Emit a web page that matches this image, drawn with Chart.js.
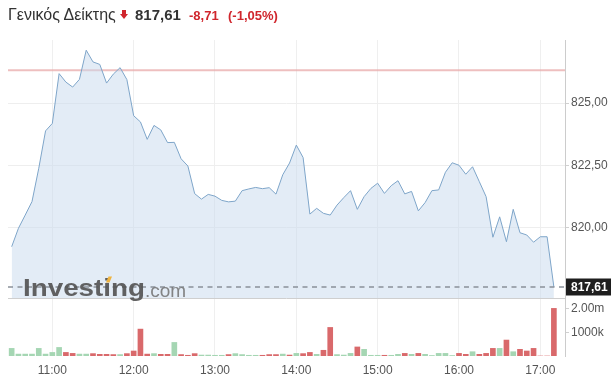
<!DOCTYPE html>
<html><head><meta charset="utf-8">
<script src="https://cdn.jsdelivr.net/npm/chart.js@4"></script>
<style>
html,body{margin:0;padding:0;background:#fff;}
#wrap{position:relative;width:616px;height:388px;font-family:"Liberation Sans",Arial,sans-serif;overflow:hidden;}
canvas{position:absolute;left:0;top:0;}
.t{position:absolute;top:5px;line-height:20px;white-space:nowrap;}
#arrow{position:absolute;left:120px;top:10px;width:8px;height:10px;}
#arrow .s{position:absolute;left:2px;top:0;width:4px;height:5px;background:#d0262d;}
#arrow .h{position:absolute;left:0;top:4px;width:0;height:0;border-left:4px solid transparent;border-right:4px solid transparent;border-top:5px solid #d0262d;}
</style></head><body>
<div id="wrap">
<canvas id="c" width="616" height="388"></canvas>
<span class="t" id="tName" style="left:8px;font-size:16px;color:#333;"></span>
<div id="arrow"><div class="s"></div><div class="h"></div></div>
<span class="t" id="tLast" style="left:135px;font-size:15px;font-weight:bold;color:#333;"></span>
<span class="t" id="tChg" style="left:189px;top:6px;font-size:13px;font-weight:bold;color:#d0262d;"></span>
<span class="t" id="tPct" style="left:228px;top:6px;font-size:13px;font-weight:bold;color:#d0262d;"></span>
</div>
<script>
const indexName = 'Γενικός Δείκτης';
const lastPrice = 817.61;
const changeText = '-8,71';
const changePctText = '(-1,05%)';
const prevClose = 826.32;

const times = ['10:30','10:35','10:40','10:45','10:50','10:55','11:00','11:05','11:10','11:15','11:20','11:25',
'11:30','11:35','11:40','11:45','11:50','11:55','12:00','12:05','12:10','12:15','12:20','12:25',
'12:30','12:35','12:40','12:45','12:50','12:55','13:00','13:05','13:10','13:15','13:20','13:25',
'13:30','13:35','13:40','13:45','13:50','13:55','14:00','14:05','14:10','14:15','14:20','14:25',
'14:30','14:35','14:40','14:45','14:50','14:55','15:00','15:05','15:10','15:15','15:20','15:25',
'15:30','15:35','15:40','15:45','15:50','15:55','16:00','16:05','16:10','16:15','16:20','16:25',
'16:30','16:35','16:40','16:45','16:50','16:55','17:00','17:05','17:10'];

const prices = [819.23,819.97,820.50,821.04,822.38,823.88,824.18,826.18,825.84,825.64,
825.95,827.12,826.65,826.55,825.80,826.16,826.42,825.94,824.49,824.24,
823.54,824.10,823.92,823.41,823.42,822.76,822.47,821.36,821.14,821.33,
821.26,821.09,821.03,821.06,821.48,821.55,821.61,821.56,821.60,821.34,
822.12,822.59,823.31,822.81,820.54,820.77,820.57,820.50,820.90,821.20,
821.48,820.73,821.24,821.57,821.78,821.37,821.68,821.88,821.35,821.45,
820.67,821.00,821.48,821.51,822.22,822.60,822.50,822.14,822.44,821.84,
821.24,819.61,820.43,819.43,820.73,819.79,819.70,819.41,819.63,819.63,817.61];

const volumesK = [320,80,80,80,320,80,150,360,150,110,
80,80,100,70,70,60,60,100,210,1130,
80,100,70,70,570,60,30,100,40,40,
30,30,60,100,60,30,30,30,60,60,
80,40,110,100,150,70,240,1200,60,40,
110,380,280,30,30,30,30,70,110,70,
110,70,20,110,110,20,110,70,180,70,
110,320,320,670,180,280,210,320,0,0,2000];

const volDir = ['u','u','u','u','u','u','u','u','d','d',
'u','u','d','d','d','d','u','d','d','d',
'd','u','d','d','u','d','d','d','u','u',
'u','u','d','u','u','u','u','d','d','d',
'u','d','u','d','d','u','d','d','u','u',
'u','d','u','u','u','d','u','u','d','u',
'd','u','u','u','u','u','d','d','u','d',
'd','d','u','d','u','d','d','d','d','d','d'];

const hourTicks = ['11:00','12:00','13:00','14:00','15:00','16:00','17:00'];
const priceTicks = [820, 822.5, 825];
const volumeTicks = [1000000, 2000000];
const volumeTickLabels = ['1000k', '2.00m'];

document.getElementById('tName').textContent = indexName;
document.getElementById('tLast').textContent = lastPrice.toFixed(2).replace('.', ',');
document.getElementById('tChg').textContent = changeText;
document.getElementById('tPct').textContent = changePctText;

const FONT = '"Liberation Sans", Arial, sans-serif';
const toMin = s => { const p = s.split(':').map(Number); return p[0]*60 + p[1]; };
const fmtTime = v => { const h = Math.floor(v/60), m = Math.round(v%60); return h + ':' + (m<10?'0':'') + m; };
const fmtPrice = v => v.toFixed(2).replace('.', ',');

const overlay = {
  id: 'overlay',
  beforeDatasetsDraw(chart) {
    const {ctx, chartArea: a, scales} = chart;
    const y = scales.y;
    ctx.save();
    const py = y.getPixelForValue(prevClose);
    ctx.strokeStyle = 'rgba(232,170,170,0.75)';
    ctx.lineWidth = 2;
    ctx.beginPath(); ctx.moveTo(a.left, py); ctx.lineTo(a.right, py); ctx.stroke();
    ctx.restore();
  },
  afterDatasetsDraw(chart) {
    const {ctx, chartArea: a, scales} = chart;
    const y = scales.y;
    ctx.save();
    ctx.strokeStyle = '#cfcfcf'; ctx.lineWidth = 1;
    ctx.beginPath(); ctx.moveTo(a.left, Math.round(y.bottom)+0.5); ctx.lineTo(a.right, Math.round(y.bottom)+0.5); ctx.stroke();
    const ly = y.getPixelForValue(lastPrice);
    ctx.strokeStyle = '#8a919a'; ctx.lineWidth = 1.6; ctx.setLineDash([5, 4.5]);
    ctx.beginPath(); ctx.moveTo(a.left, ly); ctx.lineTo(a.right, ly); ctx.stroke();
    ctx.setLineDash([]);
    ctx.fillStyle = 'rgba(85,85,85,0.92)';
    ctx.font = 'bold 23px ' + FONT;
    ctx.textBaseline = 'alphabetic';
    const w = ctx.measureText('Investing').width;
    ctx.save();
    ctx.translate(23, 296);
    ctx.scale(122 / w, 1.0);
    ctx.fillText('Investing', 0, 0);
    ctx.restore();
    ctx.fillStyle = '#f0b440';
    ctx.beginPath(); ctx.moveTo(106, 282.5); ctx.lineTo(108.5, 276.5); ctx.lineTo(112, 276.5); ctx.lineTo(109.5, 282.5); ctx.closePath(); ctx.fill();
    ctx.fillStyle = 'rgba(120,120,120,0.9)';
    ctx.font = '19px ' + FONT;
    ctx.fillText('.com', 145, 296.5);
    ctx.restore();
  },
  afterDraw(chart) {
    const {ctx, chartArea: a, scales} = chart;
    const ly = scales.y.getPixelForValue(lastPrice);
    ctx.save();
    ctx.fillStyle = '#1e1e1e';
    ctx.fillRect(a.right + 1, Math.round(ly) - 8.5, 45, 17);
    ctx.fillStyle = '#fff';
    ctx.font = 'bold 12px ' + FONT;
    ctx.textBaseline = 'middle';
    ctx.fillText(fmtPrice(lastPrice), a.right + 6, Math.round(ly) + 0.5);
    ctx.restore();
  }
};

new Chart(document.getElementById('c'), {
  data: {
    datasets: [
      {
        type: 'line', yAxisID: 'y', xAxisID: 'x',
        data: times.map((t, i) => ({x: toMin(t), y: prices[i]})),
        borderColor: '#7ea5c9', borderWidth: 1, pointRadius: 0, tension: 0,
        fill: 'start', backgroundColor: 'rgba(200,218,238,0.5)'
      },
      {
        type: 'bar', yAxisID: 'yv', xAxisID: 'x',
        data: times.map((t, i) => ({x: toMin(t), y: volumesK[i] * 1000})),
        backgroundColor: volDir.map(d => d === 'u' ? '#a5d6b3' : '#d9696b'),
        barThickness: 5, borderWidth: 0
      }
    ]
  },
  options: {
    responsive: false, animation: false,
    layout: {padding: {left: 8, top: 40, right: 0, bottom: 0}},
    plugins: {legend: {display: false}, tooltip: {enabled: false}},
    scales: {
      x: {
        type: 'linear', min: 627.3, max: 1038.2, offset: false,
        grid: {color: '#efefef', drawTicks: false, offset: false},
        border: {display: false},
        ticks: {font: {size: 12, family: FONT}, color: '#555', padding: 7, maxRotation: 0, autoSkip: false, callback: v => fmtTime(v)},
        afterBuildTicks(s) { s.ticks = hourTicks.map(t => ({value: toMin(t)})); },
        afterFit(s) { s.height = 32; }
      },
      y: {
        type: 'linear', position: 'right', stack: 'right', stackWeight: 258,
        min: 817.17, max: 827.53,
        grid: {color: '#eeeeee', tickLength: 4, tickColor: '#d0d0d0'},
        border: {display: true, color: '#cccccc'},
        ticks: {font: {size: 12, family: FONT}, color: '#555', padding: 2, callback: v => fmtPrice(v)},
        afterBuildTicks(s) { s.ticks = priceTicks.map(v => ({value: v})); },
        afterFit(s) { s.width = 51; }
      },
      yv: {
        type: 'linear', position: 'right', stack: 'right', stackWeight: 58,
        min: 0, max: 2437000,
        grid: {drawOnChartArea: false, tickLength: 4, tickColor: '#d0d0d0'},
        border: {display: true, color: '#cccccc'},
        ticks: {font: {size: 12, family: FONT}, color: '#555', padding: 2,
          callback: v => { const i = volumeTicks.indexOf(v); return i >= 0 ? volumeTickLabels[i] : ''; }},
        afterBuildTicks(s) { s.ticks = volumeTicks.map(v => ({value: v})); },
        afterFit(s) { s.width = 51; }
      }
    }
  },
  plugins: [overlay]
});
</script>
</body></html>
